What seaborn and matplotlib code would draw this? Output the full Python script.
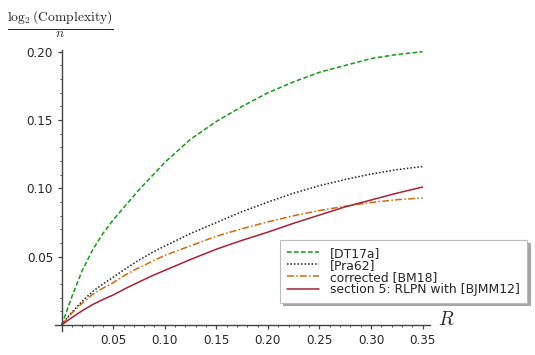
import numpy as np
import pandas as pd
import matplotlib
matplotlib.use("Agg")
import matplotlib.pyplot as plt
import seaborn as sns
from matplotlib.ticker import MultipleLocator, FuncFormatter

# ---- data ----
R = [0, 0.005, 0.01, 0.02, 0.03, 0.04, 0.05, 0.0625, 0.075, 0.0875, 0.1,
     0.125, 0.15, 0.175, 0.2, 0.225, 0.25, 0.275, 0.3, 0.325, 0.35]
dt17a = [0, 0.0105, 0.021, 0.040, 0.055, 0.067, 0.077, 0.088, 0.099, 0.109, 0.119,
         0.136, 0.149, 0.160, 0.170, 0.178, 0.185, 0.190, 0.195, 0.198, 0.200]
pra62 = [0, 0.005, 0.0095, 0.0175, 0.0245, 0.030, 0.035, 0.0415, 0.0475, 0.053, 0.0578,
         0.067, 0.075, 0.083, 0.090, 0.0965, 0.102, 0.1065, 0.1105, 0.1137, 0.1160]
bm18 = [0, 0.0045, 0.0088, 0.016, 0.0225, 0.027, 0.031, 0.037, 0.042, 0.0465, 0.051,
        0.058, 0.065, 0.0705, 0.0755, 0.080, 0.0838, 0.087, 0.0897, 0.0917, 0.093]
rlpn = [0, 0.0028, 0.0055, 0.0105, 0.015, 0.0187, 0.022, 0.027, 0.0315, 0.036, 0.040,
        0.048, 0.0555, 0.062, 0.068, 0.0745, 0.0805, 0.0865, 0.0915, 0.0965, 0.101]
labels = ["[DT17a]", "[Pra62]", "corrected [BM18]", "section 5: RLPN with [BJMM12]"]
xticks = [0.05, 0.10, 0.15, 0.20, 0.25, 0.30, 0.35]
yticks = [0.05, 0.10, 0.15, 0.20]

sns.set_theme(style="white")
plt.rcParams["font.family"] = ["DejaVu Sans"]
plt.rcParams["mathtext.fontset"] = "cm"

df = pd.DataFrame({
    "R": R * 4,
    "v": dt17a + pra62 + bm18 + rlpn,
    "series": sum([[l] * len(R) for l in labels], []),
})

fig = plt.figure(figsize=(5.35, 3.55), dpi=100)
ax = fig.add_axes([0.1037, 0.069, 0.8034 - 0.1037, 0.86 - 0.069])

colors = ["#139a13", "#222222", "#cc6a10", "#a8203a"]
styles = [(0, (3, 1.6)), (0, (1, 1.3)), (0, (4.5, 1.5, 1, 1.5)), "-"]
for lab, c, ls in zip(labels, colors, styles):
    sub = df[df["series"] == lab]
    sns.lineplot(data=sub, x="R", y="v", ax=ax, color=c, linestyle=ls, lw=1.1, label=lab)

ax.set_xlim(-0.006, 0.357)
ax.set_ylim(-0.004, 0.2015)
ax.spines["left"].set_position(("data", 0))
ax.spines["bottom"].set_position(("data", 0))
ax.spines["top"].set_visible(False)
ax.spines["right"].set_visible(False)
for s in ("left", "bottom"):
    ax.spines[s].set_color("#444444")
    ax.spines[s].set_linewidth(1.0)

ax.set_xticks(xticks)
ax.set_yticks(yticks)
ax.xaxis.set_minor_locator(MultipleLocator(0.01))
ax.yaxis.set_minor_locator(MultipleLocator(0.01))
ax.xaxis.set_major_formatter(FuncFormatter(lambda v, p: f"{v:.2f}"))
ax.yaxis.set_major_formatter(FuncFormatter(lambda v, p: f"{v:.2f}"))
ax.tick_params(which="major", direction="out", length=3.2, width=0.9, color="#444444",
               labelsize=8.6, pad=3.0, bottom=True, left=True)
ax.tick_params(which="minor", direction="out", length=1.7, width=0.7, color="#444444",
               bottom=True, left=True)
ax.set_xlabel("")
ax.set_ylabel("")
ax.grid(False)

fig.text(60 / 535, 1 - 24 / 355, r"$\frac{\log_2(\mathrm{Complexity})}{n}$",
         ha="center", va="center", fontsize=14)
fig.text(446 / 535, 1 - 319.5 / 355, r"$R$", ha="center", va="center", fontsize=14)

leg = ax.legend(loc="upper left", bbox_to_anchor=(280 / 535, 1 - 240 / 355),
                bbox_transform=fig.transFigure, borderaxespad=0, fontsize=8.9,
                frameon=True, fancybox=False, shadow={"color": "0.65", "alpha": 1},
                framealpha=1, handlelength=2.6, labelspacing=-0.08,
                handletextpad=0.9, borderpad=0.55)
leg.get_frame().set_edgecolor("#bbbbbb")
leg.get_frame().set_linewidth(0.8)

fig.savefig("out.png", dpi=100)
